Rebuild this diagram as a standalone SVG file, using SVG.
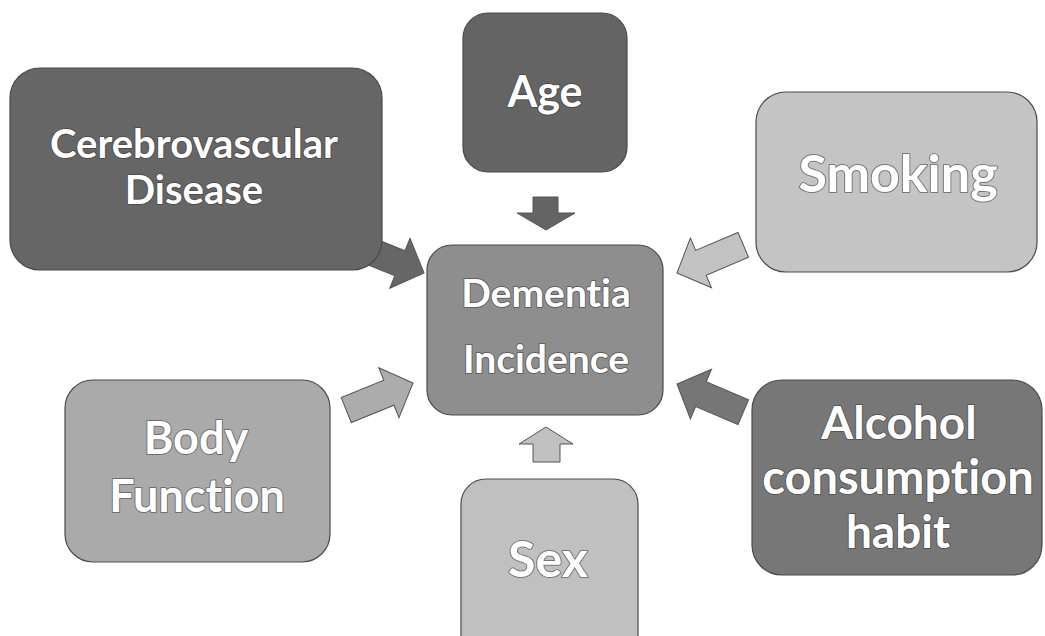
<svg xmlns="http://www.w3.org/2000/svg" width="1045" height="636" viewBox="0 0 1045 636">
<style>
.box{stroke:#4a4a4a;stroke-width:1.2}
.arr{stroke:#555;stroke-width:1}
text{font-family:Lato,"Open Sans","Liberation Sans",sans-serif;font-weight:bold;fill:#ffffff;text-anchor:middle;paint-order:stroke;stroke:#3a3a3a;stroke-width:2;stroke-opacity:0.55;stroke-linejoin:round;font-variant-ligatures:none;font-feature-settings:"liga" 0,"clig" 0}
</style>
<defs>
<path id="ba" d="M0,0 L-26,-27 L-26,-13.5 L-72,-13.5 L-72,13.5 L-26,13.5 L-26,27 Z"/>
</defs>
<rect width="1045" height="636" fill="#ffffff"/>
<g id="connectors">
<path class="arr" fill="#646464" d="M533,197 H558 V213 H575 L546,230 L517,213 H533 Z"/>
<path class="arr" fill="#c0c0c0" d="M546,427 L573,444 H560 V462 H533 V444 H519 Z"/>
<use href="#ba" class="arr" fill="#666666" transform="translate(424,273) rotate(22)"/>
<use href="#ba" class="arr" fill="#c2c2c2" transform="translate(677,273) rotate(157)"/>
<use href="#ba" class="arr" fill="#acacac" transform="translate(413,383) rotate(-22)"/>
<use href="#ba" class="arr" fill="#767676" transform="translate(677,384) rotate(203)"/>
</g>
<g id="cerebrovascular">
<rect class="box" x="10" y="68" width="372" height="202" rx="30" fill="#666666"/>
<text x="194" y="158" font-size="40">Cerebrovascular</text>
<text x="194" y="204" font-size="40">Disease</text>
</g>
<g id="age">
<rect class="box" x="463" y="13" width="164" height="159" rx="25" fill="#646464"/>
<text x="545" y="107" font-size="43">Age</text>
</g>
<g id="smoking">
<rect class="box" x="756" y="92" width="281" height="180" rx="30" fill="#c4c4c4"/>
<text x="898" y="192" font-size="52">Smoking</text>
</g>
<g id="dementia">
<rect class="box" x="427" y="245" width="236" height="170" rx="25" fill="#8e8e8e"/>
<text x="546" y="307" font-size="39">Dementia</text>
<text x="546" y="373" font-size="39">Incidence</text>
</g>
<g id="body">
<rect class="box" x="65" y="380" width="265" height="182" rx="28" fill="#aaaaaa"/>
<text x="196" y="454" font-size="45">Body</text>
<text x="197" y="512" font-size="45">Function</text>
</g>
<g id="sex">
<rect class="box" x="461" y="479" width="177" height="190" rx="25" fill="#c0c0c0"/>
<text x="548" y="577" font-size="50">Sex</text>
</g>
<g id="alcohol">
<rect class="box" x="752" y="380" width="290" height="195" rx="30" fill="#777777"/>
<text x="899" y="439" font-size="46">Alcohol</text>
<text x="898" y="494" font-size="47">consumption</text>
<text x="898" y="548" font-size="46">habit</text>
</g>
</svg>
